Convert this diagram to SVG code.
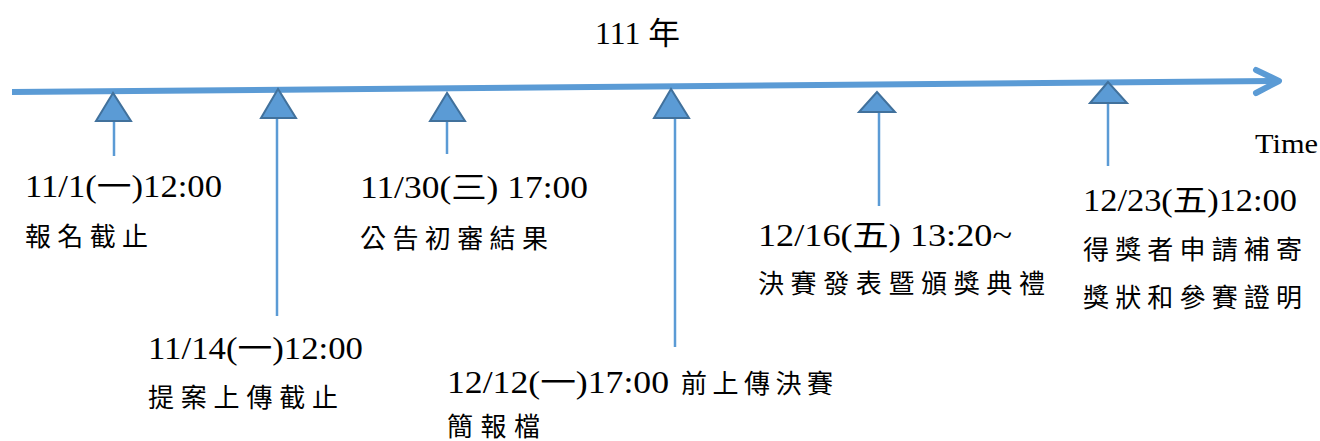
<svg xmlns="http://www.w3.org/2000/svg" width="1320" height="441" viewBox="0 0 1320 441">
<style>
.t{font-family:"Liberation Serif","Noto Sans CJK TC",serif;font-size:26px;fill:#000}
.d{font-size:31px}
.tm{font-size:28px}
.stem{stroke:#5B9BD5;stroke-width:2.5;fill:none}
.tri{fill:#5B9BD5;stroke:#41719C;stroke-width:2;stroke-linejoin:miter}
.axis{stroke:#5B9BD5;stroke-width:6;fill:none}
</style>
<rect width="1320" height="441" fill="#fff"/>
<g id="connectors">
<line class="axis" x1="12" y1="92" x2="1276" y2="81"/>
<polyline class="axis" points="1256,70 1279,81 1256,93" stroke-linecap="round" stroke-linejoin="round"/>
<line class="stem" x1="114" y1="121" x2="114" y2="156"/>
<line class="stem" x1="277" y1="118" x2="277" y2="316"/>
<line class="stem" x1="447" y1="121" x2="447" y2="154"/>
<line class="stem" x1="675" y1="118" x2="675" y2="347"/>
<line class="stem" x1="879" y1="112" x2="879" y2="206"/>
<line class="stem" x1="1108" y1="103" x2="1108" y2="166"/>
</g>
<g id="title"><text class="t d" x="595" y="44" textLength="85" lengthAdjust="spacingAndGlyphs">111 年</text></g>
<g id="time"><text class="t tm" x="1255" y="153" textLength="63" lengthAdjust="spacingAndGlyphs">Time</text></g>
<g id="n1">
<polygon class="tri" points="113,93 96,121 131,121"/>
<text class="t d" x="25" y="197" textLength="197" lengthAdjust="spacingAndGlyphs">11/1(一)12:00</text>
<text class="t" x="25" y="246" textLength="123" lengthAdjust="spacing">報名截止</text>
</g>
<g id="n2">
<polygon class="tri" points="278,89 261,118 296,118"/>
<text class="t d" x="148" y="359" textLength="215" lengthAdjust="spacingAndGlyphs">11/14(一)12:00</text>
<text class="t" x="148" y="407" textLength="190" lengthAdjust="spacing">提案上傳截止</text>
</g>
<g id="n3">
<polygon class="tri" points="447,93 430,121 465,121"/>
<text class="t d" x="360" y="198" textLength="228" lengthAdjust="spacingAndGlyphs">11/30(三) 17:00</text>
<text class="t" x="360" y="248" textLength="188" lengthAdjust="spacing">公告初審結果</text>
</g>
<g id="n4">
<polygon class="tri" points="671,89 654,118 689,118"/>
<text class="t d" x="447" y="393" textLength="222" lengthAdjust="spacingAndGlyphs">12/12(一)17:00</text>
<text class="t" x="681" y="393" textLength="152" lengthAdjust="spacing">前上傳決賽</text>
<text class="t" x="447" y="436" textLength="93" lengthAdjust="spacing">簡報檔</text>
</g>
<g id="n5">
<polygon class="tri" points="877,92 859,112 895,112"/>
<text class="t d" x="758" y="246" textLength="254" lengthAdjust="spacingAndGlyphs">12/16(五) 13:20~</text>
<text class="t" x="758" y="293" textLength="287" lengthAdjust="spacing">決賽發表暨頒獎典禮</text>
</g>
<g id="n6">
<polygon class="tri" points="1108,82 1090,103 1127,103"/>
<text class="t d" x="1083" y="211" textLength="214" lengthAdjust="spacingAndGlyphs">12/23(五)12:00</text>
<text class="t" x="1083" y="259" textLength="219" lengthAdjust="spacing">得獎者申請補寄</text>
<text class="t" x="1083" y="307" textLength="219" lengthAdjust="spacing">獎狀和參賽證明</text>
</g>
</svg>
